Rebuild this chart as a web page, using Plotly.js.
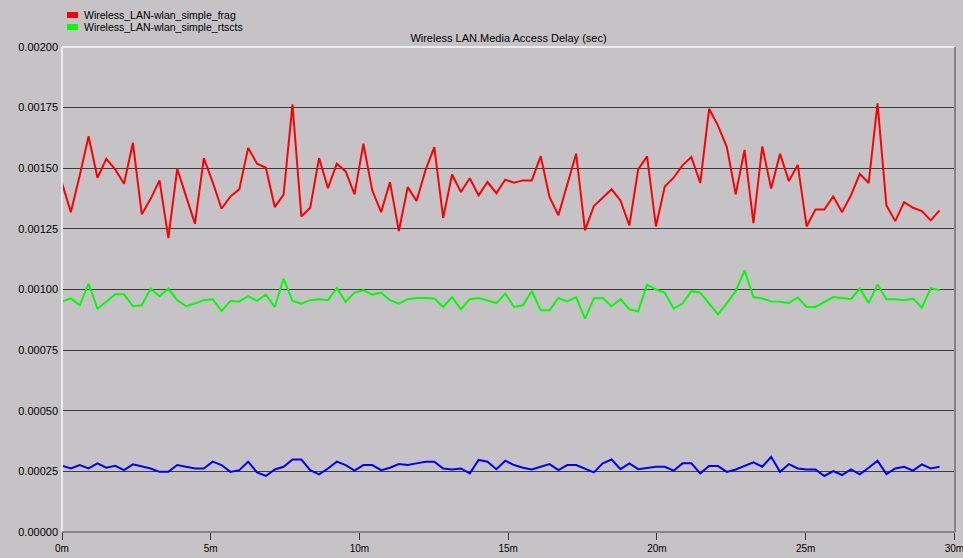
<!DOCTYPE html>
<html>
<head>
<meta charset="utf-8">
<script src="https://cdn.plot.ly/plotly-3.0.1.min.js"></script>
<style>
html,body{margin:0;padding:0;background:#c6c3c7;}
#chart{width:963px;height:558px;}
</style>
</head>
<body>
<div id="chart"></div>
<script>
// Sample interval (minutes) between successive statistic values
var stepMin = 0.298;

var seriesNames = ["Wireless_LAN-wlan_simple_frag", "Wireless_LAN-wlan_simple_rtscts"];

var fragDelay = [
0.001439, 0.001319, 0.00147, 0.001632, 0.001461, 0.001539, 0.001495, 0.001436, 0.001605, 0.00131,
0.001374, 0.00145, 0.001212, 0.001498, 0.001384, 0.001271, 0.001542, 0.001443, 0.001333, 0.001384,
0.001413, 0.001584, 0.001519, 0.001502, 0.00134, 0.001391, 0.001763, 0.001301, 0.001337, 0.001542,
0.001418, 0.001519, 0.001487, 0.001392, 0.001601,
0.001409, 0.001319, 0.001443, 0.001241, 0.001422, 0.001365, 0.001491, 0.001587, 0.001295, 0.001474,
0.001402, 0.001459, 0.001388, 0.001443, 0.001397, 0.001453, 0.00144, 0.00145, 0.00145, 0.00155,
0.001381, 0.001306, 0.001429, 0.00156, 0.001244, 0.001344, 0.001378, 0.001413, 0.001367, 0.001264,
0.001495, 0.001549, 0.00126,
0.001425, 0.001461, 0.001512, 0.001546, 0.001439, 0.001745, 0.001676, 0.001587, 0.001392, 0.001576,
0.001274, 0.00159, 0.001416, 0.00156, 0.001447, 0.001514, 0.00126, 0.00133, 0.00133, 0.001384,
0.001319, 0.001388, 0.001477, 0.001439, 0.001768, 0.001347, 0.001282, 0.00136, 0.001337, 0.001323,
0.001285, 0.001326
];

var rtsctsDelay = [
0.000951, 0.000963, 0.000935, 0.001024, 0.000921, 0.000949, 0.00098, 0.00098, 0.000931, 0.000935,
0.001004, 0.000972, 0.001004, 0.000956, 0.000931, 0.000942, 0.000956, 0.00096, 0.000912, 0.000953,
0.000951, 0.000973, 0.000953, 0.000979, 0.000928, 0.001045, 0.000953, 0.000942, 0.000956, 0.00096,
0.000956, 0.001006, 0.000949, 0.000987, 0.000997,
0.000979, 0.000987, 0.000956, 0.000942, 0.00096, 0.000965, 0.000965, 0.000963, 0.000928, 0.000969,
0.000918, 0.00096, 0.000965, 0.000953, 0.000944, 0.000983, 0.000928, 0.000935, 0.000994, 0.000914,
0.000914, 0.000965, 0.000951, 0.000969, 0.00088, 0.000963, 0.000965, 0.000931, 0.00096, 0.000918,
0.00091, 0.00102, 0.001,
0.000987, 0.000921, 0.000942, 0.000993, 0.000987, 0.000942, 0.000897, 0.000944, 0.000993, 0.001079,
0.000969, 0.000963, 0.000951, 0.000949, 0.000944, 0.000967, 0.000928, 0.000928, 0.000949, 0.000969,
0.000965, 0.00096, 0.001004, 0.000944, 0.001021, 0.00096, 0.00096, 0.000956, 0.000963, 0.000925,
0.001006, 0.000997
];

var blueDelay = [
0.000273, 0.000262, 0.000276, 0.000262, 0.000283, 0.000265, 0.000273, 0.000255, 0.000279, 0.000269,
0.000262, 0.000248, 0.000248, 0.000276, 0.000269, 0.000262, 0.000262, 0.00029, 0.000276, 0.000248,
0.000255, 0.00029, 0.000246, 0.000231, 0.000258, 0.000269, 0.000299, 0.000299, 0.000255, 0.000238,
0.000262, 0.00029, 0.000276, 0.000253, 0.000276, 0.000276, 0.000255, 0.000265, 0.00028, 0.000276,
0.000283, 0.00029, 0.00029, 0.000262, 0.000258, 0.000262, 0.000242, 0.000297, 0.00029, 0.000259,
0.000294, 0.000276, 0.000265, 0.000258, 0.000269, 0.00028, 0.000255, 0.000276, 0.000276, 0.000262,
0.000246, 0.000283, 0.000299, 0.000259, 0.000283, 0.000259, 0.000265, 0.000269, 0.000269, 0.000253,
0.000283, 0.000283, 0.000242, 0.000272, 0.000272, 0.000248, 0.000258, 0.000272, 0.000287, 0.000269,
0.00031, 0.000248, 0.00028, 0.000262, 0.000258, 0.000258, 0.000231, 0.000251, 0.000235, 0.000258,
0.000238, 0.000265, 0.000294, 0.000239, 0.000262, 0.000269, 0.000253, 0.000279, 0.000262, 0.000269
];

var xTickVals = [0, 5, 10, 15, 20, 25, 30];
var xTickText = ["0m", "5m", "10m", "15m", "20m", "25m", "30m"];
var yTickVals = [0, 0.00025, 0.0005, 0.00075, 0.001, 0.00125, 0.0015, 0.00175, 0.002];
var yTickText = ["0.00000", "0.00025", "0.00050", "0.00075", "0.00100", "0.00125", "0.00150", "0.00175", "0.00200"];

var chartTitle = "Wireless LAN.Media Access Delay (sec)";

var FONT = "Liberation Sans, Arial, sans-serif";
var BG = "#c6c3c7";

var traces = [
  {type: "scatter", mode: "lines", name: seriesNames[0], x0: 0, dx: stepMin, y: fragDelay,
   line: {color: "#ff0000", width: 2}, showlegend: false, hoverinfo: "skip"},
  {type: "scatter", mode: "lines", name: seriesNames[1], x0: 0, dx: stepMin, y: rtsctsDelay,
   line: {color: "#00ff00", width: 2}, showlegend: false, hoverinfo: "skip"},
  {type: "scatter", mode: "lines", name: "blue", x0: 0, dx: stepMin, y: blueDelay,
   line: {color: "#0000ff", width: 2}, showlegend: false, hoverinfo: "skip"}
];

// plot area in pixels: left 62, right 955, top 47, bottom 532
var L = 62, R = 955, T = 47, B = 532;
function px(x){ return (x - L) / (R - L); }
function py(y){ return (B - y) / (B - T); }

var legendColors = ["#ff0000", "#00ff00"];
var legendRows = [15, 27];

var shapes = [
  {type: "line", xref: "paper", yref: "paper", x0: 0, x1: 1, y0: 1, y1: 1, line: {color: "#ececec", width: 2}},
  {type: "line", xref: "paper", yref: "paper", x0: 0, x1: 0, y0: 0, y1: 1, line: {color: "#ececec", width: 2}},
  {type: "line", xref: "paper", yref: "paper", x0: 1, x1: 1, y0: 0, y1: 1, line: {color: "#858585", width: 2}},
  {type: "line", xref: "paper", yref: "paper", x0: 0, x1: 1, y0: 0, y1: 0, line: {color: "#858585", width: 2}}
];
var annotations = [];
for (var i = 0; i < seriesNames.length; i++) {
  var cy = legendRows[i];
  shapes.push({type: "rect", xref: "paper", yref: "paper",
    x0: px(67), x1: px(78), y0: py(cy - 3), y1: py(cy + 3),
    fillcolor: legendColors[i], line: {width: 0}});
  annotations.push({xref: "paper", yref: "paper", x: px(83), y: py(cy),
    xanchor: "left", yanchor: "middle", showarrow: false, text: seriesNames[i],
    borderpad: 0,
    font: {family: FONT, size: 10.5, color: "#000"}});
}

var layout = {
  width: 963, height: 558,
  margin: {l: L, r: 963 - R, t: T, b: 558 - B, pad: 0},
  paper_bgcolor: BG, plot_bgcolor: BG,
  showlegend: false,
  title: {text: chartTitle, font: {family: FONT, size: 11, color: "#000"},
          x: 0.5, xref: "paper", y: 1 - 38 / 558, yref: "container", yanchor: "middle"},
  xaxis: {range: [0, 30.02], tickvals: xTickVals, ticktext: xTickText,
          ticks: "outside", ticklen: 7, tickwidth: 1, tickcolor: "#333",
          ticklabeloverflow: "allow",
          showgrid: false, zeroline: false, showline: false,
          tickfont: {family: FONT, size: 10, color: "#000"}, fixedrange: true},
  yaxis: {range: [0, 0.002], tickvals: yTickVals, ticktext: yTickText,
          ticks: "", showgrid: true, gridcolor: "#3c3c3c", gridwidth: 1,
          zeroline: false, showline: false, ticklabelstandoff: 3,
          tickfont: {family: FONT, size: 11, color: "#000"}, fixedrange: true},
  shapes: shapes,
  annotations: annotations
};

Plotly.newPlot("chart", traces, layout, {displayModeBar: false, staticPlot: true});
</script>
</body>
</html>
